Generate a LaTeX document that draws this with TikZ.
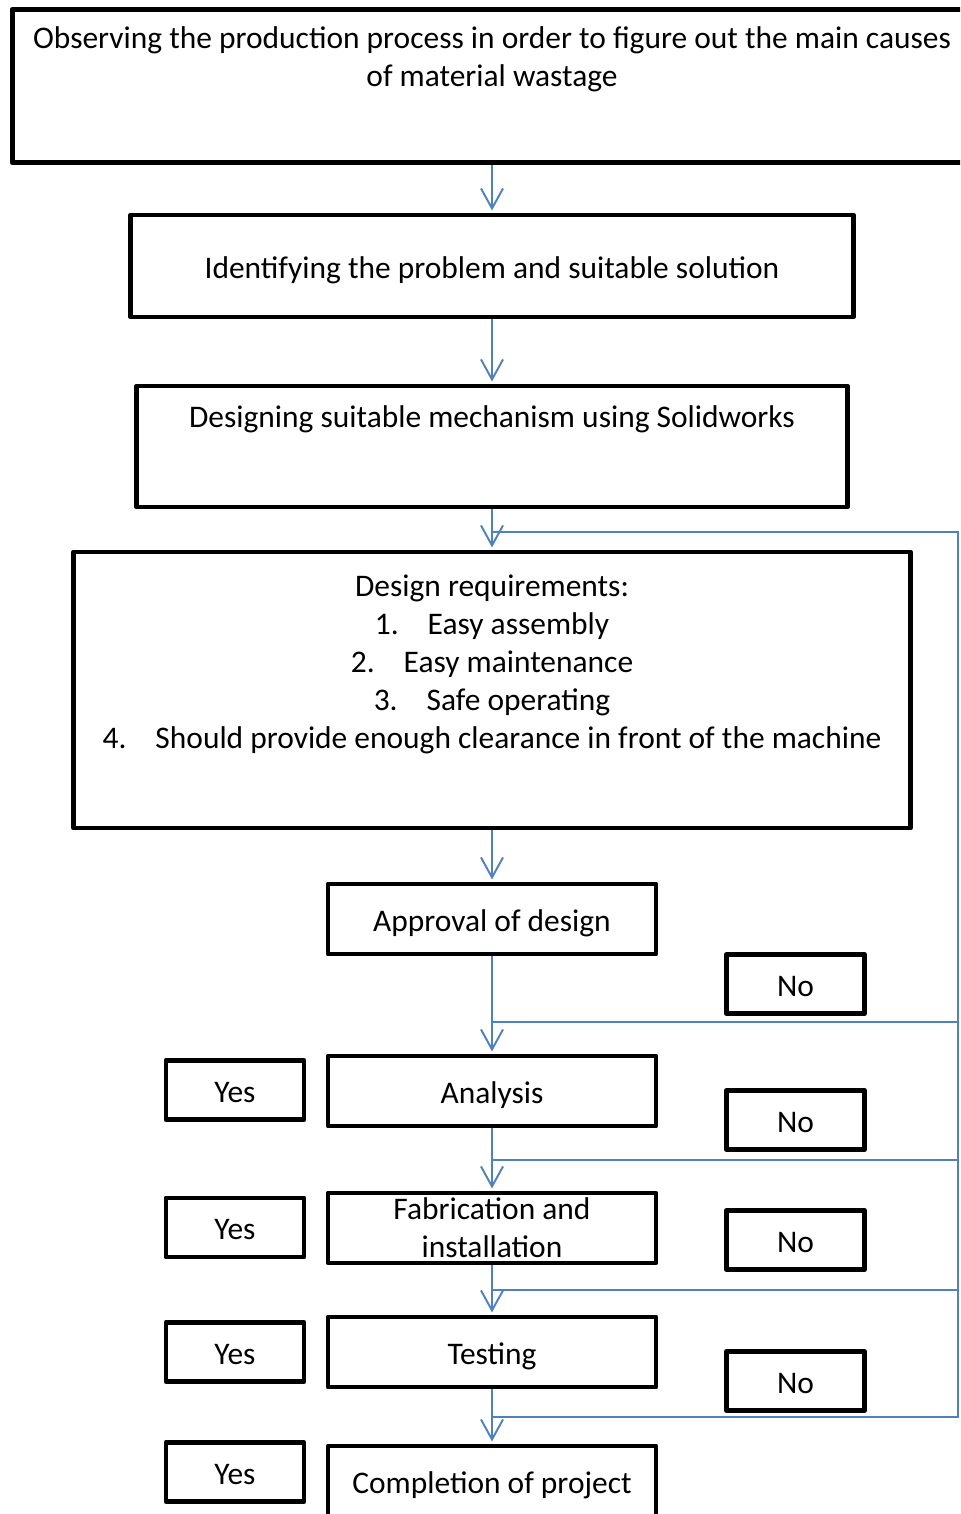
\documentclass[tikz,border=0pt]{standalone}
\usepackage{fontspec}
\setmainfont{Carlito}
\usetikzlibrary{arrows.meta}
\definecolor{FlowBlue}{RGB}{79,129,189}
\newcommand{\reqitem}[2]{#1\hspace{0.58cm}#2}

\begin{document}
\begin{tikzpicture}[x=0.02cm,y=-0.02cm,
  font=\fontsize{17.9}{21.6}\selectfont,
  txt/.style={align=center,inner sep=0pt},
  box/.style={draw,line width=2.8pt,line join=round,inner sep=0pt,align=center},
  oneline/.style={text height=15pt,text depth=0.8pt},
  stage/.style={box,minimum width=6.56cm,minimum height=1.4cm},
  answer/.style={box,oneline,minimum width=2.76cm,minimum height=1.18cm},
  flow/.style={FlowBlue,line width=1.1pt},
  arr/.style={flow,-{Straight Barb[length=0.4cm,width=0.44cm]},shorten >=1.2pt}]
\useasboundingbox (0,0) rectangle (960,1514);
\clip (0,0) rectangle (960,1514);

% upper boxes
\node[box,minimum width=19.2cm,minimum height=3.07cm] (obs) at (492,86) {};
\node[txt] at (492,59.5) {Observing the production process in order to figure out the main causes\\of material wastage};
\node[box,oneline,minimum width=14.46cm,minimum height=2.04cm] (ident) at (492,266)
  {Identifying the problem and suitable solution};
\node[box,minimum width=14.22cm,minimum height=2.42cm] (design) at (492,446.5) {};
\node[txt] at (492,419.5) {Designing suitable mechanism using Solidworks};
\node[box,minimum width=16.74cm,minimum height=5.52cm] (req) at (492,690) {};
\node[txt] at (492,664) {Design requirements:\\ \reqitem{1.}{Easy assembly}\\ \reqitem{2.}{Easy maintenance}\\
  \reqitem{3.}{Safe operating}\\ \reqitem{4.}{Should provide enough clearance in front of the machine}};

% stages
\node[stage,oneline] (approval) at (492,919) {Approval of design};
\node[stage,oneline] (analysis) at (492,1091) {Analysis};
\node[stage] (fab) at (492,1228) {Fabrication and\\installation};
\node[stage,oneline] (testing) at (492,1352) {Testing};
\node[stage,oneline] (done) at (492,1481) {Completion of project};

% yes / no
\node[answer] (yes1) at (235,1090) {Yes};
\node[answer] (yes2) at (235,1227.5) {Yes};
\node[answer] (yes3) at (235,1352) {Yes};
\node[answer] (yes4) at (235,1472) {Yes};
\node[answer] (no1) at (795.5,984) {No};
\node[answer] (no2) at (795.5,1120) {No};
\node[answer] (no3) at (795.5,1240) {No};
\node[answer] (no4) at (795.5,1381) {No};

% main flow
\draw[arr] (obs.south) -- (ident.north);
\draw[arr] (ident.south) -- (design.north);
\draw[arr] (design.south) -- (req.north);
\draw[arr] (req.south) -- (approval.north);
\draw[arr] (approval.south) -- (analysis.north);
\draw[arr] (analysis.south) -- (fab.north);
\draw[arr] (fab.south) -- (testing.north);
\draw[arr] (testing.south) -- (done.north);

% feedback loop
\foreach \i/\y in {0/532,1/1022,2/1160,3/1290,4/1417}{
  \coordinate (j\i) at (492,\y);
  \coordinate (r\i) at (958,\y);
}
\draw[flow] (j0) -- (r0) -- (r4) -- (j4);
\foreach \i in {1,2,3} \draw[flow] (j\i) -- (r\i);
\end{tikzpicture}
\end{document}
